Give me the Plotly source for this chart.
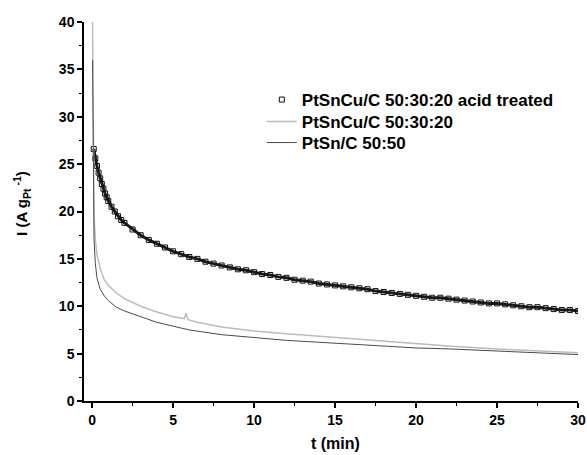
import plotly.graph_objects as go

# PtSnCu/C 50:30:20 acid treated
t_acid = [0.1, 0.2, 0.3, 0.4, 0.5, 0.6, 0.7, 0.8, 0.9, 1.0, 1.2, 1.4, 1.6, 1.8, 2.0,
          2.5, 3.0, 3.5, 4.0, 4.5, 5.0, 5.5, 6.0, 6.5, 7.0, 7.5, 8.0, 8.5, 9.0, 9.5,
          10.0, 10.5, 11.0, 11.5, 12.0, 12.5, 13.0, 13.5, 14.0, 14.5, 15.0, 15.5, 16.0,
          16.5, 17.0, 17.5, 18.0, 18.5, 19.0, 19.5, 20.0, 20.5, 21.0, 21.5, 22.0, 22.5,
          23.0, 23.5, 24.0, 24.5, 25.0, 25.5, 26.0, 26.5, 27.0, 27.5, 28.0, 28.5, 29.0,
          29.5, 30.0]
i_acid = [26.6, 25.6, 24.8, 24.1, 23.5, 22.9, 22.4, 21.9, 21.5, 21.1, 20.5, 20.0, 19.5,
          19.1, 18.8, 18.1, 17.5, 17.0, 16.6, 16.2, 15.8, 15.5, 15.2, 15.0, 14.7, 14.5,
          14.3, 14.1, 13.9, 13.8, 13.6, 13.4, 13.3, 13.1, 13.0, 12.8, 12.7, 12.6, 12.4,
          12.3, 12.2, 12.1, 12.0, 11.9, 11.8, 11.6, 11.5, 11.4, 11.3, 11.2, 11.1, 11.0,
          10.9, 10.9, 10.8, 10.7, 10.6, 10.5, 10.4, 10.3, 10.3, 10.2, 10.1, 10.0, 9.9,
          9.9, 9.8, 9.7, 9.6, 9.6, 9.5]

# PtSnCu/C 50:30:20
t_cu = [0.03, 0.05, 0.08, 0.12, 0.2, 0.3, 0.5, 0.75, 1.0, 1.5, 2.0, 2.5, 3.0, 4.0, 5.0,
        5.7, 5.8, 5.9, 6.5, 8.0, 10.0, 12.0, 15.0, 18.0, 20.0, 22.0, 25.0, 28.0, 30.0]
i_cu = [40.0, 33.0, 25.0, 19.5, 17.0, 15.5, 14.0, 12.8, 12.2, 11.4, 10.8, 10.4, 10.0, 9.4,
        8.9, 8.7, 9.3, 8.6, 8.3, 7.8, 7.4, 7.1, 6.7, 6.3, 6.0, 5.8, 5.5, 5.3, 5.1]

# PtSn/C 50:50
t_sn = [0.03, 0.05, 0.08, 0.12, 0.2, 0.3, 0.5, 0.75, 1.0, 1.5, 2.0, 2.5, 3.0, 4.0, 5.0,
        6.0, 8.0, 10.0, 12.0, 15.0, 18.0, 20.0, 22.0, 25.0, 28.0, 30.0]
i_sn = [36.0, 30.0, 22.0, 17.0, 14.5, 13.0, 11.8, 11.1, 10.6, 9.9, 9.5, 9.2, 8.9, 8.3, 7.9,
        7.5, 7.0, 6.7, 6.4, 6.1, 5.8, 5.6, 5.5, 5.3, 5.1, 4.9]

names = ["PtSnCu/C 50:30:20 acid treated", "PtSnCu/C 50:30:20", "PtSn/C 50:50"]

FONT = "Liberation Sans, Arial, sans-serif"

fig = go.Figure()
fig.add_trace(go.Scatter(x=t_acid, y=i_acid, mode="lines", showlegend=False,
                         line=dict(color="#1a1a1a", width=3), hoverinfo="skip"))
fig.add_trace(go.Scatter(x=t_acid, y=i_acid, mode="markers", name=names[0], legend="legend",
                         marker=dict(symbol="square-open", size=5, color="#111111",
                                     line=dict(width=1, color="#111111"))))
fig.add_trace(go.Scatter(x=t_cu, y=i_cu, mode="lines", name=names[1], legend="legend2",
                         line=dict(color="#bcbcbc", width=1.5)))
fig.add_trace(go.Scatter(x=t_sn, y=i_sn, mode="lines", name=names[2], legend="legend3",
                         line=dict(color="#4a4a4a", width=1)))

axis_common = dict(showline=True, linecolor="black", linewidth=1.5, ticks="outside",
                   ticklen=5, tickwidth=1.5, tickcolor="black", showgrid=False,
                   zeroline=False, mirror=False, automargin=False,
                   tickfont=dict(family=FONT, size=14, color="black", weight="bold"),
                   minor=dict(ticks="outside", ticklen=3, tickwidth=1, tickcolor="black",
                              dtick=2.5, showgrid=False))

fig.update_xaxes(range=[-0.5, 30.0], dtick=5, tick0=0, **axis_common)
fig.update_yaxes(range=[0, 40], dtick=5, tick0=0, **axis_common)

fig.add_annotation(text="t (min)", xref="paper", yref="paper", x=0.51, y=0,
                   yanchor="middle", xanchor="center", yshift=-42, showarrow=False,
                   font=dict(family=FONT, size=16, color="black", weight="bold"))
fig.add_annotation(text="I (A g<sub>Pt</sub><sup> -1</sup>)", xref="paper", yref="paper",
                   x=0, y=0.52, xanchor="center", yanchor="middle", xshift=-62,
                   textangle=-90, showarrow=False,
                   font=dict(family=FONT, size=15, color="black", weight="bold"))

PLOT_TOP, PLOT_H = 22, 379
def leg(yc):
    return dict(x=0.36, y=1 - (yc - PLOT_TOP) / PLOT_H, xanchor="left", yanchor="middle",
                bgcolor="rgba(0,0,0,0)", itemwidth=30,
                font=dict(family=FONT, size=17, color="black", weight="bold"))

fig.update_layout(
    width=587, height=455,
    margin=dict(l=84, r=9, t=22, b=54),
    plot_bgcolor="white", paper_bgcolor="white",
    showlegend=True,
    legend=leg(100), legend2=leg(122), legend3=leg(143),
)

fig.write_html("out.html", config={"displayModeBar": False},
               post_script="document.body.style.margin='0px';")
